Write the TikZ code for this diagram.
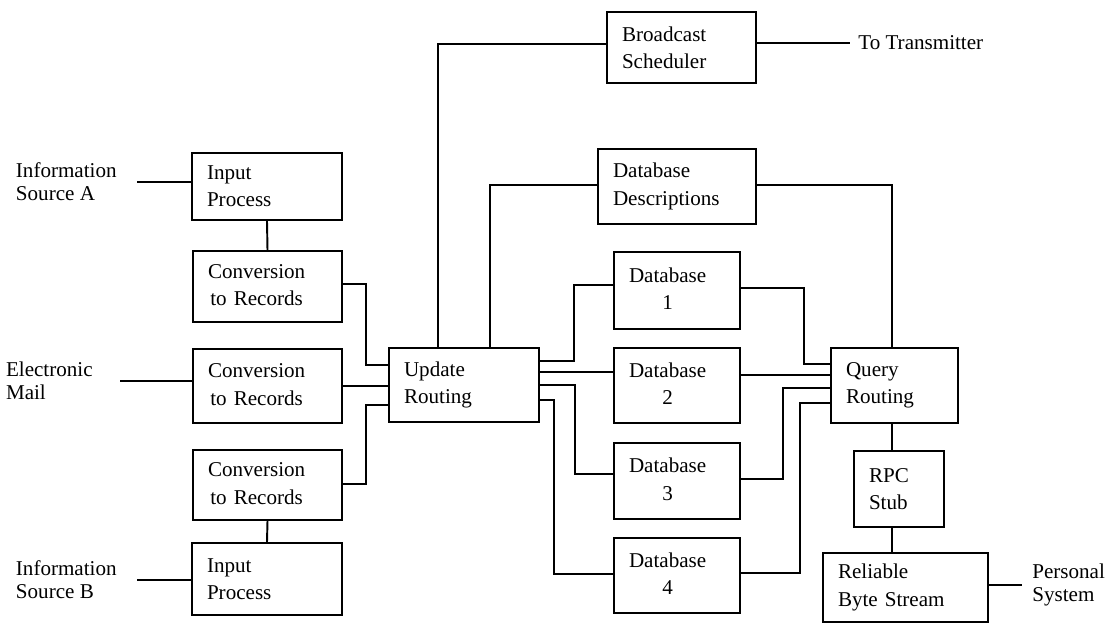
\documentclass[tikz,border=0pt]{standalone}
\usepackage{fontspec}
\setmainfont{Liberation Serif}
\usepackage{tikz}
\usetikzlibrary{positioning}
\tikzstyle{block} = [rectangle, draw, line width=1.1pt, inner xsep=0.3cm, inner ysep=0pt, align=left, font=\fontsize{12}{15.5}\selectfont]
\tikzstyle{outside} = [inner ysep=0pt, align=left, font=\fontsize{12}{13}\selectfont]
\tikzstyle{wire} = [line width=1.1pt]
\newcommand{\twoc}[2]{\begin{tabular}{@{}c@{}}#1\\#2\end{tabular}}

\begin{document}
\begin{tikzpicture}[x=0.02cm, y=-0.02cm]
\useasboundingbox (0,0) rectangle (1107,628);
% Input side
\node (inA) [block, text width=2.4cm, minimum height=1.34cm] at (267,186.5) {Input\\Process};
\node (conv1) [block, text width=2.38cm, minimum height=1.42cm] at (267.5,286.5) {\twoc{Conversion}{to Records}};
\node (conv2) [block, text width=2.38cm, minimum height=1.48cm] at (267.5,386) {\twoc{Conversion}{to Records}};
\node (conv3) [block, text width=2.38cm, minimum height=1.4cm] at (267.5,485) {\twoc{Conversion}{to Records}};
\node (inB) [block, text width=2.4cm, minimum height=1.44cm] at (267,579) {Input\\Process};

% Sources
\node (srcA) [outside, anchor=east, inner xsep=0.4cm] at (137,182) {Information\\Source A};
\node (mail) [outside, anchor=east, inner xsep=0.54cm] at (120,381) {Electronic\\Mail};
\node (srcB) [outside, anchor=east, inner xsep=0.4cm] at (137,580) {Information\\Source B};

% Routing and databases
\node (update) [block, text width=2.4cm, minimum height=1.48cm] at (464,385) {Update\\Routing};
\node (bsched) [block, text width=2.38cm, minimum height=1.42cm] at (681.5,47.5) {Broadcast\\Scheduler};
\node (dbdesc) [block, text width=2.56cm, minimum height=1.5cm] at (677,186.5) {Database\\Descriptions};
\node (db1) [block, text width=1.92cm, minimum height=1.54cm] at (677,290.5) {\twoc{Database}{1}};
\node (db2) [block, text width=1.92cm, minimum height=1.5cm] at (677,385.5) {\twoc{Database}{2}};
\node (db3) [block, text width=1.92cm, minimum height=1.52cm] at (677,481) {\twoc{Database}{3}};
\node (db4) [block, text width=1.92cm, minimum height=1.5cm] at (677,575.5) {\twoc{Database}{4}};

% Query side
\node (query) [block, text width=1.94cm, minimum height=1.5cm] at (894.5,385.5) {Query\\Routing};
\node (rpc) [block, text width=1.2cm, minimum height=1.52cm] at (899,489) {RPC\\Stub};
\node (rbs) [block, text width=2.7cm, minimum height=1.38cm] at (905.5,587.5) {Reliable\\Byte Stream};
\node (totx) [outside, anchor=west, inner xsep=0.16cm] at (850,43) {To Transmitter};
\node (psys) [outside, anchor=west, inner xsep=0.2cm] at (1022,585) {Personal\\System};

% Input connections
\draw[wire] (srcA.east) -- (srcA.east -| inA.west);
\draw[wire] (mail.east) -- (mail.east -| conv2.west);
\draw[wire] (srcB.east) -- (srcB.east -| inB.west);
\draw[wire] (inA.south) -- (conv1.north);
\draw[wire] (conv3.south) -- (inB.north);
\draw[wire] (conv1.east |- 0,284) -| (366,365) -- (update.west |- 0,365);
\draw[wire] (conv2.east) -- (conv2.east -| update.west);
\draw[wire] (conv3.east |- 0,484) -| (366,405) -- (update.west |- 0,405);

% Update routing outputs
\draw[wire] (update.north -| 438,0) |- (bsched.west |- 0,44);
\draw[wire] (update.north -| 490,0) |- (dbdesc.west |- 0,185);
\draw[wire] (update.east |- 0,361) -| (574,285) -- (db1.west |- 0,285);
\draw[wire] (update.east |- 0,372) -- (db2.west |- 0,372);
\draw[wire] (update.east |- 0,385) -| (575,474) -- (db3.west |- 0,474);
\draw[wire] (update.east |- 0,400) -| (554,574) -- (db4.west |- 0,574);

% Query routing inputs
\draw[wire] (dbdesc.east |- 0,185) -| (query.north -| 892,0);
\draw[wire] (db1.east |- 0,288) -| (804,364) -- (query.west |- 0,364);
\draw[wire] (db2.east |- 0,375) -- (query.west |- 0,375);
\draw[wire] (db3.east |- 0,479) -| (783,388) -- (query.west |- 0,388);
\draw[wire] (db4.east |- 0,573) -| (800,403) -- (query.west |- 0,403);

% Output chain
\draw[wire] (query.south -| 892,0) -- (rpc.north -| 892,0);
\draw[wire] (rpc.south -| 892,0) -- (rbs.north -| 892,0);
\draw[wire] (rbs.east |- psys.west) -- (psys.west);
\draw[wire] (bsched.east |- totx.west) -- (totx.west);
\end{tikzpicture}
\end{document}
